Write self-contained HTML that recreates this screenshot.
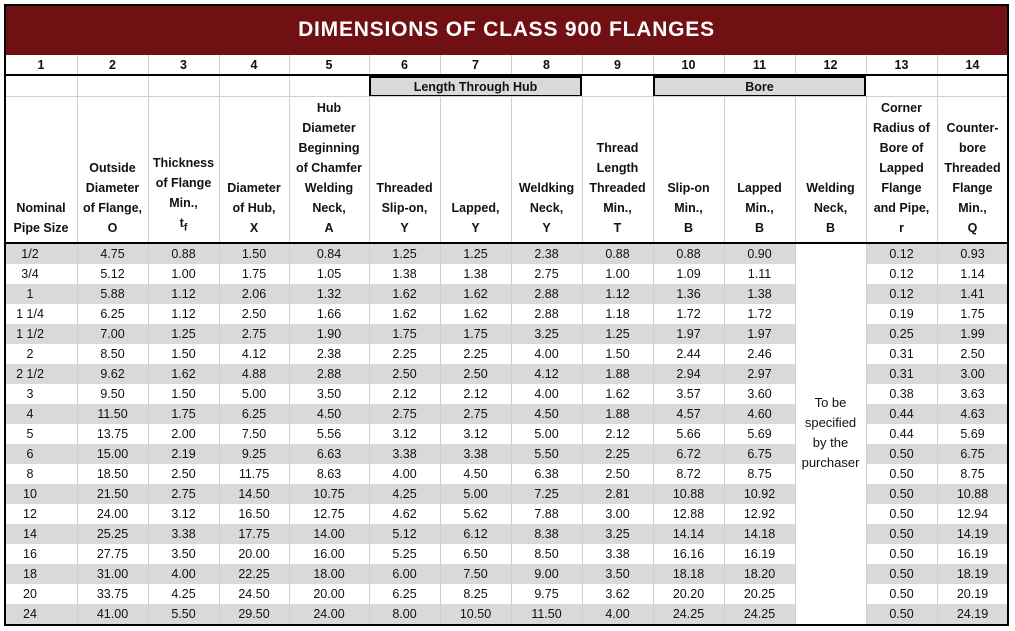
<!DOCTYPE html>
<html><head><meta charset="utf-8"><style>
body{margin:0;width:1015px;height:631px;background:#fff;overflow:hidden;font-family:"Liberation Sans",Arial,sans-serif}
#wrap{position:absolute;left:0;top:0;width:1015px;height:631px}
.c{position:absolute;display:flex;align-items:center;justify-content:center;font-size:12.5px;color:#111;box-sizing:border-box;white-space:nowrap}
.b{font-weight:bold}
.ln{position:absolute;background:#d0d0d0}
.bk{position:absolute;background:#000}
</style></head><body>
<div id="wrap">
<div style="position:absolute;left:5px;top:5px;width:1003px;height:50px;background:#701013;color:#fff;font-weight:bold;font-size:21px;letter-spacing:0.8px;display:flex;align-items:center;justify-content:center">DIMENSIONS OF CLASS 900 FLANGES</div>
</div>
<script>
const colEdges=[5,77,148,219,289,369,440,511,582,653,724,795,866,937,1008];
const sizes=["1/2","3/4","1","1 1/4","1 1/2","2","2 1/2","3","4","5","6","8","10","12","14","16","18","20","24"];
const outsideDia=["4.75","5.12","5.88","6.25","7.00","8.50","9.62","9.50","11.50","13.75","15.00","18.50","21.50","24.00","25.25","27.75","31.00","33.75","41.00"];
const thickness=["0.88","1.00","1.12","1.12","1.25","1.50","1.62","1.50","1.75","2.00","2.19","2.50","2.75","3.12","3.38","3.50","4.00","4.25","5.50"];
const hubDia=["1.50","1.75","2.06","2.50","2.75","4.12","4.88","5.00","6.25","7.50","9.25","11.75","14.50","16.50","17.75","20.00","22.25","24.50","29.50"];
const hubChamfer=["0.84","1.05","1.32","1.66","1.90","2.38","2.88","3.50","4.50","5.56","6.63","8.63","10.75","12.75","14.00","16.00","18.00","20.00","24.00"];
const lenThreaded=["1.25","1.38","1.62","1.62","1.75","2.25","2.50","2.12","2.75","3.12","3.38","4.00","4.25","4.62","5.12","5.25","6.00","6.25","8.00"];
const lenLapped=["1.25","1.38","1.62","1.62","1.75","2.25","2.50","2.12","2.75","3.12","3.38","4.50","5.00","5.62","6.12","6.50","7.50","8.25","10.50"];
const lenWeld=["2.38","2.75","2.88","2.88","3.25","4.00","4.12","4.00","4.50","5.00","5.50","6.38","7.25","7.88","8.38","8.50","9.00","9.75","11.50"];
const threadLen=["0.88","1.00","1.12","1.18","1.25","1.50","1.88","1.62","1.88","2.12","2.25","2.50","2.81","3.00","3.25","3.38","3.50","3.62","4.00"];
const boreSlip=["0.88","1.09","1.36","1.72","1.97","2.44","2.94","3.57","4.57","5.66","6.72","8.72","10.88","12.88","14.14","16.16","18.18","20.20","24.25"];
const boreLap=["0.90","1.11","1.38","1.72","1.97","2.46","2.97","3.60","4.60","5.69","6.75","8.75","10.92","12.92","14.18","16.19","18.20","20.25","24.25"];
const cornerR=["0.12","0.12","0.12","0.19","0.25","0.31","0.31","0.38","0.44","0.44","0.50","0.50","0.50","0.50","0.50","0.50","0.50","0.50","0.50"];
const counterbore=["0.93","1.14","1.41","1.75","1.99","2.50","3.00","3.63","4.63","5.69","6.75","8.75","10.88","12.94","14.19","16.19","18.19","20.19","24.19"];
const headers=[["Nominal","Pipe Size"],["Outside","Diameter","of Flange,","O"],["Thickness","of Flange","Min.,","t<sub>f</sub>"],["Diameter","of Hub,","X"],["Hub","Diameter","Beginning","of Chamfer","Welding","Neck,","A"],["Threaded","Slip-on,","Y"],["Lapped,","Y"],["Weldking","Neck,","Y"],["Thread","Length","Threaded","Min.,","T"],["Slip-on","Min.,","B"],["Lapped","Min.,","B"],["Welding","Neck,","B"],["Corner","Radius of","Bore of","Lapped","Flange","and Pipe,","r"],["Counter-","bore","Threaded","Flange","Min.,","Q"]];
const W=document.getElementById('wrap');
function box(x,y,w,h,cls,html,name){const d=document.createElement('div');d.className=cls;d.style.left=x+'px';d.style.top=y+'px';d.style.width=w+'px';d.style.height=h+'px';if(html!==null)d.innerHTML=html;


W.appendChild(d);return d;}
const ROW0=244,RH=20;
// row backgrounds
sizes.forEach((s,i)=>{if(i%2===0){const r=box(5,ROW0+i*RH,1003,RH,'c','', 'row-band');r.style.background='#d9d9d9';}});
// welding neck merged cell white
const wn=box(795,ROW0,71,RH*19,'c','','welding-neck-merged-cell');wn.style.background='#fff';
// group boxes
const g1=box(369,76,213,21,'c b','Length Through Hub','group-length-through-hub');g1.style.background='#d9d9d9';g1.style.border='2px solid #000';g1.style.fontSize='12.5px';
const g2=box(653,76,213,21,'c b','Bore','group-bore');g2.style.background='#d9d9d9';g2.style.border='2px solid #000';
// vertical lines
for(let k=1;k<14;k++){const x=colEdges[k];
 const l=box(x,55,1,20,'ln',null,'column-divider');
 const l3=box(x,97,1,146,'ln',null,'column-divider');
 if(k!==12&&k!==13){box(x,244,1,380,'ln',null,'column-divider');} else {const a=box(x,244,1,380,'ln',null,'column-divider');}
 if(!(x>369&&x<582)&&!(x>653&&x<866)&&x!==369&&x!==582&&x!==653&&x!==866)box(x,76,1,21,'ln',null,'column-divider');
}
box(5,96,1003,1,'ln',null,'header-divider');
// column numbers and headers
for(let k=0;k<14;k++){const x=colEdges[k],w=colEdges[k+1]-x;
 box(x,55,w,20,'c b',String(k+1),'column-number-'+(k+1));
 const h=headers[k];const d=box(x,97,w,146,'c b','', 'column-header-'+(k+1));
 d.style.flexDirection='column';d.style.justifyContent='flex-end';d.style.paddingBottom='5px';d.style.lineHeight='20px';
 d.innerHTML=h.map(t=>'<div>'+t+'</div>').join('');
}
const cols=[sizes,outsideDia,thickness,hubDia,hubChamfer,lenThreaded,lenLapped,lenWeld,threadLen,boreSlip,boreLap,null,cornerR,counterbore];
cols.forEach((arr,k)=>{if(!arr)return;const x=colEdges[k],w=colEdges[k+1]-x;
 arr.forEach((v,i)=>{const d=box(k===0?5:x,ROW0+i*RH,k===0?50:w,RH,'c',v,'cell-'+(k+1)+'-'+i);});
});
const sp=box(795,393,71,80,'c','','welding-neck-note');sp.style.flexDirection='column';sp.style.lineHeight='20px';sp.style.fontSize='13px';
sp.innerHTML='<div>To be</div><div>specified</div><div>by the</div><div>purchaser</div>';
// thick lines and border
box(5,74,1003,2,'bk',null,'rule-top');
box(5,242,1003,2,'bk',null,'rule-header-bottom');
const ob=box(4,4,1005,622,'',null,'outer-border');ob.style.position='absolute';ob.style.border='2px solid #000';ob.style.boxSizing='border-box';
</script>
</body></html>
